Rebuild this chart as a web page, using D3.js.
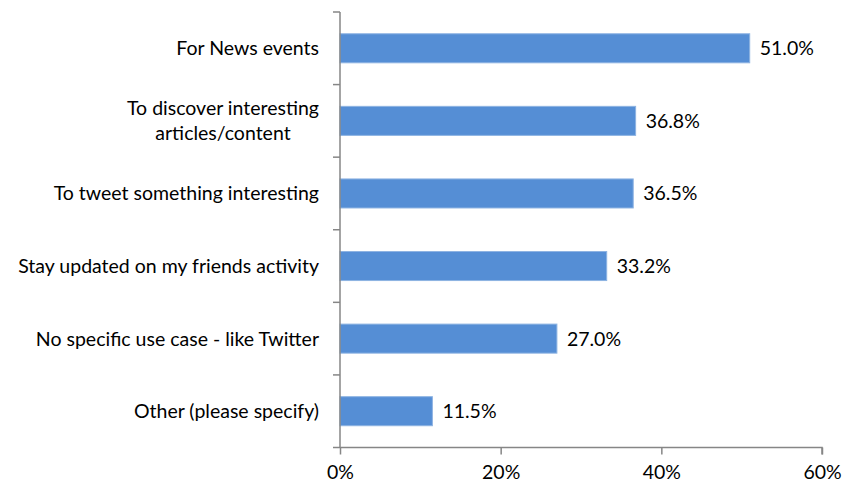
<!DOCTYPE html>
<html>
<head>
<meta charset="utf-8">
<script src="https://cdn.jsdelivr.net/npm/d3@7"></script>
<style>
  html, body { margin: 0; padding: 0; background: #fff; }
  svg { display: block; }
  text { font-family: Lato, "Open Sans", sans-serif; fill: #000; }
</style>
</head>
<body>
<svg id="chart" width="842" height="485"></svg>
<script>
// Survey responses: why people use Twitter
const categories = [
  ["For News events"],
  ["To discover interesting", "articles/content"],
  ["To tweet something interesting"],
  ["Stay updated on my friends activity"],
  ["No specific use case - like Twitter"],
  ["Other (please specify)"]
];
const values = [51.0, 36.8, 36.5, 33.2, 27.0, 11.5];
const xTicks = [0, 20, 40, 60];

const svg = d3.select("#chart");
const plotLeft = 340, plotRight = 822, plotTop = 12, plotBottom = 447.5;
const fontSize = 19.5;

const x = d3.scaleLinear().domain([0, 60]).range([plotLeft, plotRight]);
const band = d3.scaleBand().domain(d3.range(categories.length)).range([plotTop, plotBottom]);
const barH = band.bandwidth() * 0.4;

const axisColor = "#868686";

// Bars
svg.selectAll("rect.bar").data(values).join("rect")
  .attr("class", "bar")
  .attr("x", x(0))
  .attr("y", (d, i) => band(i) + band.bandwidth() / 2 - barH / 2)
  .attr("width", d => x(d) - x(0))
  .attr("height", barH)
  .attr("fill", "#558ED5")
  .attr("stroke", "#8DB3E2")
  .attr("stroke-width", 1);

// Value labels
svg.selectAll("text.val").data(values).join("text")
  .attr("class", "val")
  .attr("x", d => x(d) + 10)
  .attr("y", (d, i) => band(i) + band.bandwidth() / 2)
  .attr("dy", "0.36em")
  .attr("font-size", fontSize)
  .text(d => d.toFixed(1) + "%");

// Vertical category axis with tick marks between bands
const yAxisG = svg.append("g");
yAxisG.append("line")
  .attr("x1", plotLeft).attr("x2", plotLeft)
  .attr("y1", plotTop).attr("y2", plotBottom)
  .attr("stroke", axisColor).attr("stroke-width", 1.5);
const bounds = d3.range(categories.length + 1).map(i => i < categories.length ? band(i) : plotBottom);
yAxisG.selectAll("line.tick").data(bounds).join("line")
  .attr("class", "tick")
  .attr("x1", plotLeft - 7).attr("x2", plotLeft)
  .attr("y1", d => d).attr("y2", d => d)
  .attr("stroke", axisColor).attr("stroke-width", 1.5);

// Category labels (multi-line labels centered on each other, right-aligned as a block)
const labelRight = 319;
categories.forEach((lines, i) => {
  const cy = band(i) + band.bandwidth() / 2;
  const lh = 25;
  const g = svg.append("g");
  const texts = lines.map((s, k) => g.append("text")
    .attr("y", cy + (k - (lines.length - 1) / 2) * lh)
    .attr("dy", "0.36em")
    .attr("font-size", fontSize)
    .text(s));
  const w = d3.max(texts, t => t.node().getComputedTextLength());
  texts.forEach(t => t.attr("x", labelRight - w / 2).attr("text-anchor", "middle"));
});

// Horizontal value axis
const xAxis = d3.axisBottom(x).tickValues(xTicks).tickFormat(d => d + "%").tickSize(7).tickPadding(11);
const xg = svg.append("g").attr("transform", `translate(0,${plotBottom})`).call(xAxis);
xg.select(".domain").attr("stroke", axisColor).attr("stroke-width", 1.5).attr("d", `M${plotLeft},0H${plotRight}V7`);
xg.selectAll(".tick line").attr("stroke", axisColor).attr("stroke-width", 1.5);
xg.selectAll(".tick text").attr("font-size", fontSize).attr("font-family", "Lato, 'Open Sans', sans-serif").attr("fill", "#000");
</script>
</body>
</html>
